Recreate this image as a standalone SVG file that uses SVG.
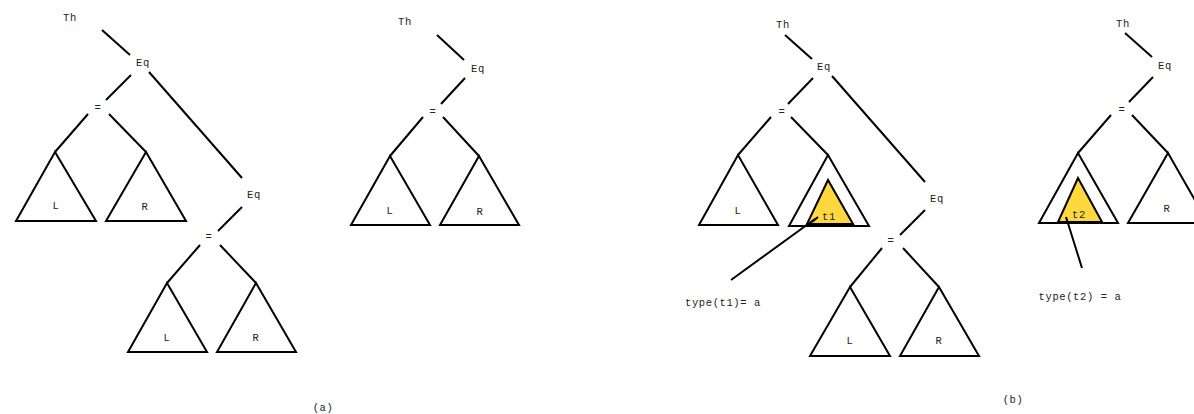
<svg xmlns="http://www.w3.org/2000/svg" width="1194" height="414" viewBox="0 0 1194 414">
<style>
text{font-family:"Liberation Mono","DejaVu Sans Mono",monospace;font-size:10.5px;fill:#222;text-anchor:middle;letter-spacing:0.6px}
.e{stroke:#000;stroke-width:2;fill:none;stroke-linecap:butt}
.t{stroke:#000;stroke-width:2;fill:#fff;stroke-linejoin:miter}
.y{stroke:#000;stroke-width:2;fill:#FFD83F}
</style>
<rect width="1194" height="414" fill="#fff"/>
<g id="connectors">
<!-- tree 1 -->
<line class="e" x1="102" y1="30" x2="130" y2="55"/>
<line class="e" x1="131" y1="75" x2="106" y2="100"/>
<line class="e" x1="88" y1="114" x2="55" y2="152"/>
<line class="e" x1="109" y1="114" x2="146" y2="152"/>
<line class="e" x1="149" y1="72" x2="242" y2="178"/>
<line class="e" x1="242" y1="207" x2="218" y2="231"/>
<line class="e" x1="200" y1="245" x2="167" y2="283"/>
<line class="e" x1="220" y1="245" x2="256" y2="283"/>
<!-- tree 2 -->
<line class="e" x1="437" y1="35" x2="464" y2="60"/>
<line class="e" x1="465" y1="78" x2="441" y2="104"/>
<line class="e" x1="423" y1="117" x2="390" y2="156"/>
<line class="e" x1="443" y1="117" x2="479" y2="156"/>
<!-- tree 3 -->
<line class="e" x1="785" y1="35" x2="812" y2="59"/>
<line class="e" x1="813" y1="78" x2="788" y2="104"/>
<line class="e" x1="771" y1="117" x2="738" y2="155"/>
<line class="e" x1="791" y1="117" x2="828" y2="155"/>
<line class="e" x1="832" y1="76" x2="925" y2="182"/>
<line class="e" x1="925" y1="210" x2="900" y2="235"/>
<line class="e" x1="882" y1="248" x2="850" y2="287"/>
<line class="e" x1="903" y1="248" x2="939" y2="287"/>
<!-- tree 4 -->
<line class="e" x1="1125" y1="33" x2="1152" y2="57"/>
<line class="e" x1="1153" y1="77" x2="1129" y2="102"/>
<line class="e" x1="1111" y1="115" x2="1078" y2="153"/>
<line class="e" x1="1132" y1="115" x2="1168" y2="153"/>
</g>
<g id="tree-a1">
<text x="70" y="21">Th</text>
<text x="143" y="66">Eq</text>
<text x="98" y="111">=</text>
<polygon class="t" points="55,152 16,221 96,221"/>
<text x="56" y="209">L</text>
<polygon class="t" points="146,152 106,221 186,221"/>
<text x="145" y="210">R</text>
<text x="254" y="198">Eq</text>
<text x="209" y="240">=</text>
<polygon class="t" points="167,283 128,352 207,352"/>
<text x="167" y="341">L</text>
<polygon class="t" points="256,283 217,352 296,352"/>
<text x="256" y="341">R</text>
</g>
<g id="tree-a2">
<text x="405" y="25">Th</text>
<text x="478" y="72">Eq</text>
<text x="433" y="115">=</text>
<polygon class="t" points="390,156 351,225 430,225"/>
<text x="390" y="214">L</text>
<polygon class="t" points="479,156 440,225 519,225"/>
<text x="480" y="215">R</text>
</g>
<g id="tree-b1">
<text x="783" y="28">Th</text>
<text x="824" y="70">Eq</text>
<text x="782" y="115">=</text>
<polygon class="t" points="738,155 699,225 778,225"/>
<text x="738" y="214">L</text>
<polygon class="t" points="828,155 789,226 869,226"/>
<polygon class="y" points="828,180 807,224 853,224"/>
<text x="829" y="220">t1</text>
<text x="937" y="202">Eq</text>
<text x="891" y="244">=</text>
<polygon class="t" points="850,287 810,356 890,356"/>
<text x="850" y="344">L</text>
<polygon class="t" points="939,287 900,356 979,356"/>
<text x="939" y="344">R</text>
<line class="e" x1="731" y1="280" x2="815" y2="219"/>
<line class="e" x1="812" y1="222" x2="818" y2="217"/>
<text x="723" y="306">type(t1)= a</text>
</g>
<g id="tree-b2">
<text x="1123" y="27">Th</text>
<text x="1165" y="69">Eq</text>
<text x="1122" y="113">=</text>
<polygon class="t" points="1078,153 1039,223 1118,223"/>
<polygon class="y" points="1078,178 1058,222 1102,222"/>
<text x="1079" y="218">t2</text>
<polygon class="t" points="1168,153 1128,223 1208,223"/>
<text x="1167" y="212">R</text>
<line class="e" x1="1082" y1="268" x2="1066" y2="217"/>
<text x="1080" y="300">type(t2) = a</text>
</g>
<g id="captions">
<text x="323" y="411">(a)</text>
<text x="1013" y="403">(b)</text>
</g>
</svg>
